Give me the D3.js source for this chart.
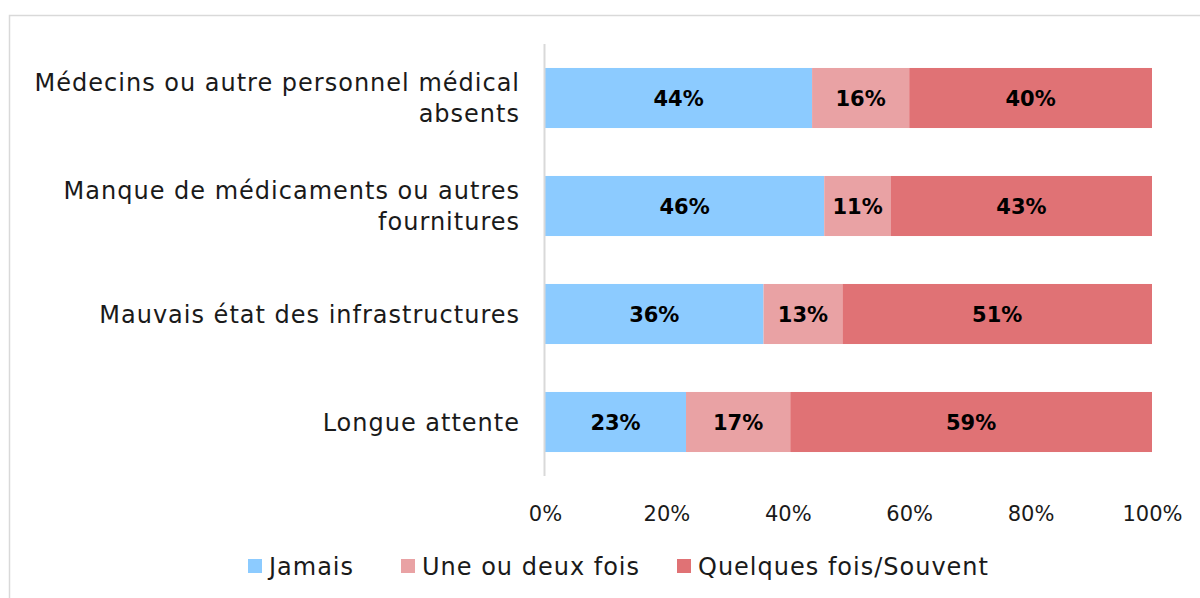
<!DOCTYPE html>
<html>
<head>
<meta charset="utf-8">
<script src="https://cdn.jsdelivr.net/npm/d3@7"></script>
<style>
  body { margin: 0; background: #fff; }
  svg { font-family: "DejaVu Sans", sans-serif; }
</style>
</head>
<body>
<svg id="chart" width="1200" height="598"></svg>
<script>
// categories (top to bottom) and series values, in percent
const categories = [
  ["Médecins ou autre personnel médical", "absents"],
  ["Manque de médicaments ou autres", "fournitures"],
  ["Mauvais état des infrastructures"],
  ["Longue attente"]
];
const seriesNames = ["Jamais", "Une ou deux fois", "Quelques fois/Souvent"];
const jamais = [44, 46, 36, 23];
const uneDeux = [16, 11, 13, 17];
const souvent = [40, 43, 51, 59];
const tickValues = [0, 20, 40, 60, 80, 100];
const colors = ["#8ccbff", "#e9a2a4", "#e07275"];

const svg = d3.select("#chart");
const margin = { top: 44, right: 48, bottom: 122, left: 545 };
const width = +svg.attr("width");
const height = +svg.attr("height");
const innerWidth = width - margin.left - margin.right;
const innerHeight = height - margin.top - margin.bottom;

// outer chart frame (runs off the right and bottom edges)
svg.append("path")
  .attr("d", `M9.5,${height}V15.5H${width}`)
  .attr("fill", "none").attr("stroke", "#d9d9d9").attr("stroke-width", 1.5);

const rows = categories.map((c, i) => ({
  key: i,
  label: c,
  values: [jamais[i], uneDeux[i], souvent[i]]
}));

// 100% stacked: each row is scaled to its own total
const xScale = d3.scaleLinear().domain([0, 100]).range([0, innerWidth]);
const yScale = d3.scaleBand()
  .domain(rows.map(d => d.key))
  .range([0, innerHeight])
  .paddingInner(0.444)
  .paddingOuter(0.222);

const g = svg.append("g").attr("transform", `translate(${margin.left},${margin.top})`);

const stacked = rows.map(r => {
  const total = d3.sum(r.values);
  let acc = 0;
  return r.values.map((v, j) => {
    const seg = { row: r.key, j, x0: acc / total * 100, x1: (acc + v) / total * 100, v };
    acc += v;
    return seg;
  });
}).flat();

g.selectAll("rect.seg")
  .data(stacked)
  .enter()
  .append("rect")
  .attr("class", "seg")
  .attr("x", d => xScale(d.x0))
  .attr("y", d => yScale(d.row))
  .attr("width", d => xScale(d.x1) - xScale(d.x0))
  .attr("height", yScale.bandwidth())
  .attr("fill", d => colors[d.j]);

g.selectAll("text.val")
  .data(stacked)
  .enter()
  .append("text")
  .attr("class", "val")
  .attr("x", d => xScale((d.x0 + d.x1) / 2))
  .attr("y", d => yScale(d.row) + yScale.bandwidth() / 2)
  .attr("dy", "0.36em")
  .attr("text-anchor", "middle")
  .attr("font-size", 21)
  .attr("font-weight", "bold")
  .attr("fill", "#000")
  .text(d => `${d.v}%`);

// vertical axis line
g.append("line")
  .attr("x1", -0.5).attr("x2", -0.5)
  .attr("y1", 0).attr("y2", innerHeight)
  .attr("stroke", "#d9d9d9").attr("stroke-width", 2);

// category labels
const catG = g.append("g");
rows.forEach(r => {
  const cy = yScale(r.key) + yScale.bandwidth() / 2;
  const n = r.label.length;
  const t = catG.append("text")
    .attr("text-anchor", "end")
    .attr("font-size", 24)
    .attr("letter-spacing", 1)
    .attr("fill", "#1a1a1a");
  r.label.forEach((line, k) => {
    t.append("tspan")
      .attr("x", -25)
      .attr("y", cy + (k - (n - 1) / 2) * 31)
      .attr("dy", "0.36em")
      .text(line);
  });
});

// x axis
const xAxis = d3.axisBottom(xScale)
  .tickValues(tickValues)
  .tickFormat(d => `${d}%`)
  .tickSize(0)
  .tickPadding(30);
const xAxisG = g.append("g")
  .attr("transform", `translate(0,${innerHeight})`)
  .call(xAxis);
xAxisG.select(".domain").remove();
xAxisG.selectAll("text")
  .attr("font-family", "DejaVu Sans, sans-serif")
  .attr("font-size", 21)
  .attr("fill", "#1a1a1a");

// legend
const legendX = [248, 401, 677];
const legend = svg.append("g").attr("transform", "translate(0,566)");
seriesNames.forEach((name, i) => {
  legend.append("rect")
    .attr("x", legendX[i]).attr("y", -7)
    .attr("width", 14).attr("height", 14)
    .attr("fill", colors[i]);
  legend.append("text")
    .attr("x", legendX[i] + 21)
    .attr("y", 0)
    .attr("dy", "0.36em")
    .attr("font-size", 24)
    .attr("letter-spacing", 1)
    .attr("fill", "#1a1a1a")
    .text(name);
});
</script>
</body>
</html>
